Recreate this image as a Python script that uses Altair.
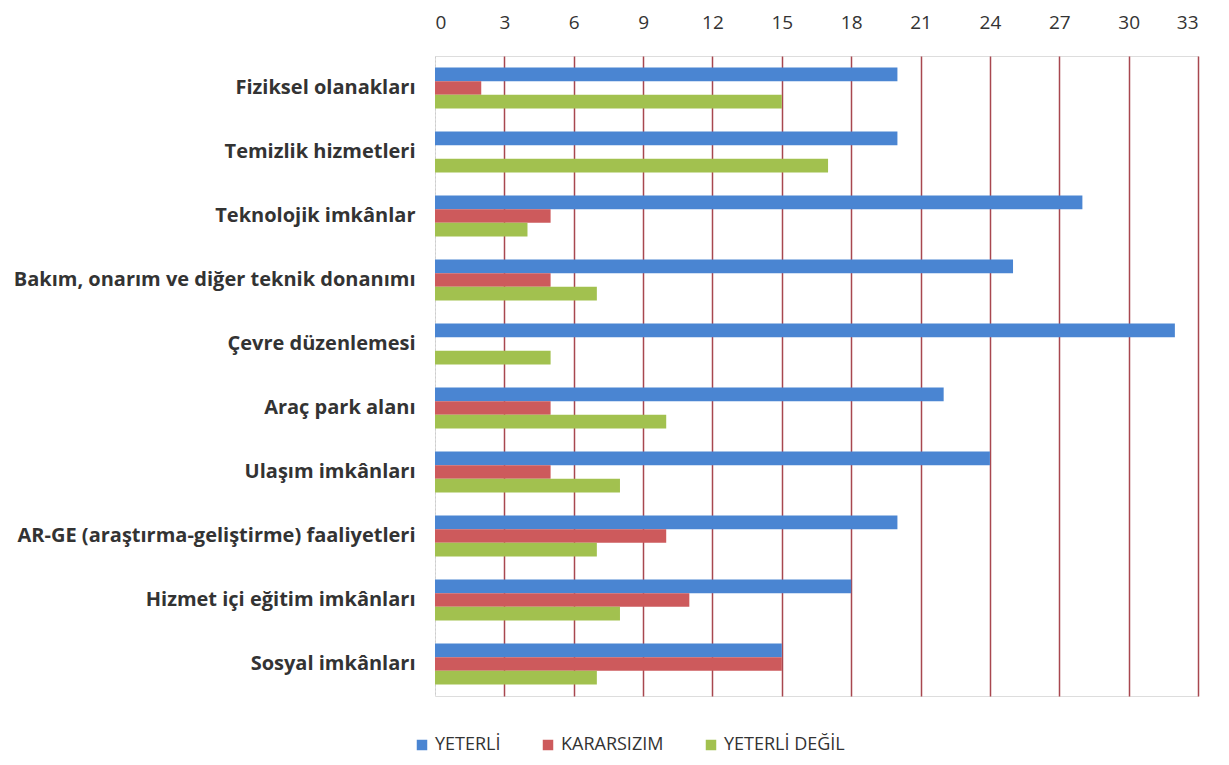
import altair as alt
import pandas as pd

categories = [
    "Fiziksel olanakları",
    "Temizlik hizmetleri",
    "Teknolojik imkânlar",
    "Bakım, onarım ve diğer teknik donanımı",
    "Çevre düzenlemesi",
    "Araç park alanı",
    "Ulaşım imkânları",
    "AR-GE (araştırma-geliştirme) faaliyetleri",
    "Hizmet içi eğitim imkânları",
    "Sosyal imkânları",
]
series = ["YETERLİ", "KARARSIZIM", "YETERLİ DEĞİL"]
yeterli = [20, 20, 28, 25, 32, 22, 24, 20, 18, 15]
kararsizim = [2, 0, 5, 5, 0, 5, 5, 10, 11, 15]
yeterli_degil = [15, 17, 4, 7, 5, 10, 8, 7, 8, 7]
ticks = [0, 3, 6, 9, 12, 15, 18, 21, 24, 27, 30, 33]
colors = ["#4a85d2", "#cd5a5c", "#a2c14f"]

rows = []
for i, c in enumerate(categories):
    for s, vals in zip(series, [yeterli, kararsizim, yeterli_degil]):
        rows.append({"kategori": c, "seri": s, "deger": vals[i]})
df = pd.DataFrame(rows)

FONT = "Open Sans"

chart = (
    alt.Chart(df)
    .mark_bar()
    .encode(
        y=alt.Y(
            "kategori:N",
            sort=categories,
            title=None,
            scale=alt.Scale(paddingInner=0.36, paddingOuter=0.18),
            axis=alt.Axis(
                labelFont=FONT,
                labelFontWeight="bold",
                labelFontSize=20,
                labelColor="#333333",
                labelLimit=600,
                labelPadding=20,
                ticks=False,
                domain=True,
                domainColor="#cccccc",
                domainDash=[2, 2],
                domainWidth=1,
                grid=False,
            ),
        ),
        yOffset=alt.YOffset("seri:N", sort=series),
        x=alt.X(
            "deger:Q",
            title=None,
            scale=alt.Scale(domain=[0, 33], nice=False),
            axis=alt.Axis(
                orient="top",
                values=ticks,
                labelFont=FONT,
                labelFontSize=19,
                labelColor="#333333",
                labelPadding=24,
                ticks=False,
                domain=False,
                grid=True,
                gridColor={
                    "condition": {"test": "datum.value === 0", "value": "transparent"},
                    "value": "#a8474f",
                },
                gridWidth=1.5,
            ),
        ),
        color=alt.Color(
            "seri:N",
            sort=series,
            scale=alt.Scale(domain=series, range=colors),
            legend=alt.Legend(
                title=None,
                orient="none",
                direction="horizontal",
                legendX=-22,
                legendY=680,
                symbolType="square",
                symbolSize=110,
                symbolStrokeWidth=0,
                labelFont=FONT,
                labelFontSize=18,
                labelColor="#333333",
                labelOffset=4,
                columnPadding=38,
                padding=0,
            ),
        ),
    )
    .properties(width=763, height=640)
    .configure_view(strokeWidth=0)
    .configure(background="white")
)

chart.save("out.html", embed_options={"renderer": "svg", "actions": False})
